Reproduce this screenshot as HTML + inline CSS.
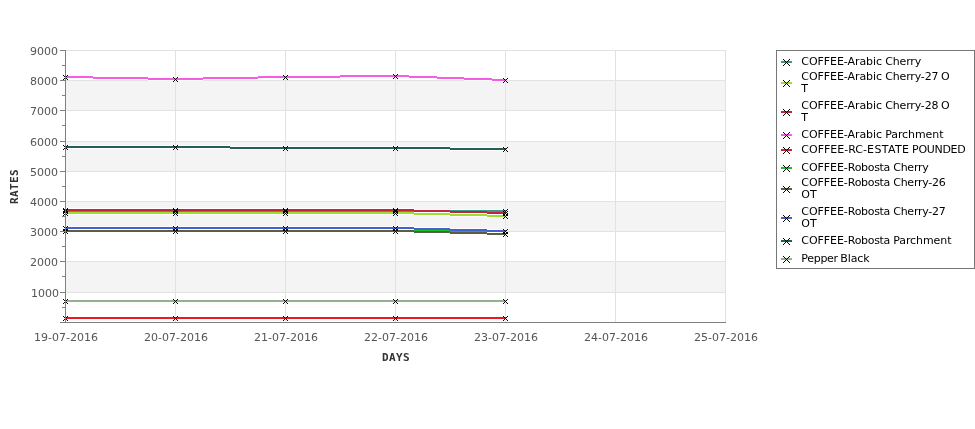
<!DOCTYPE html>
<html><head><meta charset="utf-8"><title>Rates</title>
<style>
html,body{margin:0;padding:0;background:#fff}
svg{display:block}
text{font-family:"DejaVu Sans","Liberation Sans",sans-serif;font-size:11px}
.tk{fill:#555}
.ax{font-family:"DejaVu Sans Mono","Liberation Mono",monospace;font-weight:bold;font-size:11px;fill:#333;letter-spacing:0.38px}
.lg{fill:#000}
</style></head><body>
<svg width="975" height="429" viewBox="0 0 975 429">
<rect width="975" height="429" fill="#fff"/>
<g shape-rendering="crispEdges">
<rect x="66" y="261" width="660" height="31" fill="#f4f4f4"/>
<rect x="66" y="201" width="660" height="30" fill="#f4f4f4"/>
<rect x="66" y="141" width="660" height="30" fill="#f4f4f4"/>
<rect x="66" y="80" width="660" height="30" fill="#f4f4f4"/>
<rect x="66" y="292" width="660" height="1" fill="#e2e2e2"/>
<rect x="66" y="261" width="660" height="1" fill="#e2e2e2"/>
<rect x="66" y="231" width="660" height="1" fill="#e2e2e2"/>
<rect x="66" y="201" width="660" height="1" fill="#e2e2e2"/>
<rect x="66" y="171" width="660" height="1" fill="#e2e2e2"/>
<rect x="66" y="141" width="660" height="1" fill="#e2e2e2"/>
<rect x="66" y="110" width="660" height="1" fill="#e2e2e2"/>
<rect x="66" y="80" width="660" height="1" fill="#e2e2e2"/>
<rect x="66" y="50" width="660" height="1" fill="#e2e2e2"/>
<rect x="175" y="50" width="1" height="272" fill="#e2e2e2"/>
<rect x="285" y="50" width="1" height="272" fill="#e2e2e2"/>
<rect x="395" y="50" width="1" height="272" fill="#e2e2e2"/>
<rect x="505" y="50" width="1" height="272" fill="#e2e2e2"/>
<rect x="615" y="50" width="1" height="272" fill="#e2e2e2"/>
<rect x="725" y="50" width="1" height="272" fill="#e2e2e2"/>
<rect x="66" y="209" width="109" height="4" fill="#fff"/>
<rect x="175" y="209" width="110" height="4" fill="#fff"/>
<rect x="285" y="209" width="110" height="4" fill="#fff"/>
<rect x="395" y="209" width="111" height="4" fill="#fff"/>
<rect x="66" y="211" width="109" height="4" fill="#fff"/>
<rect x="175" y="211" width="110" height="4" fill="#fff"/>
<rect x="285" y="211" width="110" height="4" fill="#fff"/>
<rect x="395" y="211" width="19" height="4" fill="#fff"/>
<rect x="414" y="212" width="36" height="4" fill="#fff"/>
<rect x="450" y="213" width="37" height="4" fill="#fff"/>
<rect x="487" y="214" width="19" height="4" fill="#fff"/>
<rect x="66" y="208" width="109" height="4" fill="#fff"/>
<rect x="175" y="208" width="110" height="4" fill="#fff"/>
<rect x="285" y="208" width="110" height="4" fill="#fff"/>
<rect x="395" y="208" width="19" height="4" fill="#fff"/>
<rect x="414" y="209" width="36" height="4" fill="#fff"/>
<rect x="450" y="210" width="37" height="4" fill="#fff"/>
<rect x="487" y="211" width="19" height="4" fill="#fff"/>
<rect x="66" y="75" width="27" height="4" fill="#fff"/>
<rect x="93" y="76" width="55" height="4" fill="#fff"/>
<rect x="148" y="77" width="27" height="4" fill="#fff"/>
<rect x="175" y="77" width="28" height="4" fill="#fff"/>
<rect x="203" y="76" width="55" height="4" fill="#fff"/>
<rect x="258" y="75" width="27" height="4" fill="#fff"/>
<rect x="285" y="75" width="55" height="4" fill="#fff"/>
<rect x="340" y="74" width="55" height="4" fill="#fff"/>
<rect x="395" y="74" width="14" height="4" fill="#fff"/>
<rect x="409" y="75" width="28" height="4" fill="#fff"/>
<rect x="437" y="76" width="27" height="4" fill="#fff"/>
<rect x="464" y="77" width="28" height="4" fill="#fff"/>
<rect x="492" y="78" width="14" height="4" fill="#fff"/>
<rect x="66" y="316" width="109" height="4" fill="#fff"/>
<rect x="175" y="316" width="110" height="4" fill="#fff"/>
<rect x="285" y="316" width="110" height="4" fill="#fff"/>
<rect x="395" y="316" width="111" height="4" fill="#fff"/>
<rect x="66" y="229" width="109" height="4" fill="#fff"/>
<rect x="175" y="229" width="110" height="4" fill="#fff"/>
<rect x="285" y="229" width="110" height="4" fill="#fff"/>
<rect x="395" y="229" width="111" height="4" fill="#fff"/>
<rect x="66" y="229" width="109" height="4" fill="#fff"/>
<rect x="175" y="229" width="110" height="4" fill="#fff"/>
<rect x="285" y="229" width="110" height="4" fill="#fff"/>
<rect x="395" y="229" width="19" height="4" fill="#fff"/>
<rect x="414" y="230" width="36" height="4" fill="#fff"/>
<rect x="450" y="231" width="37" height="4" fill="#fff"/>
<rect x="487" y="232" width="19" height="4" fill="#fff"/>
<rect x="66" y="226" width="109" height="4" fill="#fff"/>
<rect x="175" y="226" width="110" height="4" fill="#fff"/>
<rect x="285" y="226" width="110" height="4" fill="#fff"/>
<rect x="395" y="226" width="19" height="4" fill="#fff"/>
<rect x="414" y="227" width="36" height="4" fill="#fff"/>
<rect x="450" y="228" width="37" height="4" fill="#fff"/>
<rect x="487" y="229" width="19" height="4" fill="#fff"/>
<rect x="66" y="145" width="109" height="4" fill="#fff"/>
<rect x="175" y="145" width="55" height="4" fill="#fff"/>
<rect x="230" y="146" width="55" height="4" fill="#fff"/>
<rect x="285" y="146" width="110" height="4" fill="#fff"/>
<rect x="395" y="146" width="55" height="4" fill="#fff"/>
<rect x="450" y="147" width="56" height="4" fill="#fff"/>
<rect x="66" y="299" width="109" height="4" fill="#fff"/>
<rect x="175" y="299" width="110" height="4" fill="#fff"/>
<rect x="285" y="299" width="110" height="4" fill="#fff"/>
<rect x="395" y="299" width="111" height="4" fill="#fff"/>
<rect x="66" y="210" width="109" height="2" fill="#3a9889"/>
<rect x="175" y="210" width="110" height="2" fill="#3a9889"/>
<rect x="285" y="210" width="110" height="2" fill="#3a9889"/>
<rect x="395" y="210" width="111" height="2" fill="#3a9889"/>
<rect x="66" y="212" width="109" height="2" fill="#9be030"/>
<rect x="175" y="212" width="110" height="2" fill="#9be030"/>
<rect x="285" y="212" width="110" height="2" fill="#9be030"/>
<rect x="395" y="212" width="19" height="2" fill="#9be030"/>
<rect x="414" y="213" width="36" height="2" fill="#9be030"/>
<rect x="450" y="214" width="37" height="2" fill="#9be030"/>
<rect x="487" y="215" width="19" height="2" fill="#9be030"/>
<rect x="66" y="209" width="109" height="2" fill="#c3233e"/>
<rect x="175" y="209" width="110" height="2" fill="#c3233e"/>
<rect x="285" y="209" width="110" height="2" fill="#c3233e"/>
<rect x="395" y="209" width="19" height="2" fill="#c3233e"/>
<rect x="414" y="210" width="36" height="2" fill="#c3233e"/>
<rect x="450" y="211" width="37" height="2" fill="#c3233e"/>
<rect x="487" y="212" width="19" height="2" fill="#c3233e"/>
<rect x="66" y="76" width="27" height="2" fill="#f55ee4"/>
<rect x="93" y="77" width="55" height="2" fill="#f55ee4"/>
<rect x="148" y="78" width="27" height="2" fill="#f55ee4"/>
<rect x="175" y="78" width="28" height="2" fill="#f55ee4"/>
<rect x="203" y="77" width="55" height="2" fill="#f55ee4"/>
<rect x="258" y="76" width="27" height="2" fill="#f55ee4"/>
<rect x="285" y="76" width="55" height="2" fill="#f55ee4"/>
<rect x="340" y="75" width="55" height="2" fill="#f55ee4"/>
<rect x="395" y="75" width="14" height="2" fill="#f55ee4"/>
<rect x="409" y="76" width="28" height="2" fill="#f55ee4"/>
<rect x="437" y="77" width="27" height="2" fill="#f55ee4"/>
<rect x="464" y="78" width="28" height="2" fill="#f55ee4"/>
<rect x="492" y="79" width="14" height="2" fill="#f55ee4"/>
<rect x="66" y="317" width="109" height="2" fill="#ee1825"/>
<rect x="175" y="317" width="110" height="2" fill="#ee1825"/>
<rect x="285" y="317" width="110" height="2" fill="#ee1825"/>
<rect x="395" y="317" width="111" height="2" fill="#ee1825"/>
<rect x="66" y="230" width="109" height="2" fill="#0ec420"/>
<rect x="175" y="230" width="110" height="2" fill="#0ec420"/>
<rect x="285" y="230" width="110" height="2" fill="#0ec420"/>
<rect x="395" y="230" width="111" height="2" fill="#0ec420"/>
<rect x="66" y="230" width="109" height="2" fill="#585d43"/>
<rect x="175" y="230" width="110" height="2" fill="#585d43"/>
<rect x="285" y="230" width="110" height="2" fill="#585d43"/>
<rect x="395" y="230" width="19" height="2" fill="#585d43"/>
<rect x="414" y="231" width="36" height="2" fill="#585d43"/>
<rect x="450" y="232" width="37" height="2" fill="#585d43"/>
<rect x="487" y="233" width="19" height="2" fill="#585d43"/>
<rect x="66" y="227" width="109" height="2" fill="#4662ca"/>
<rect x="175" y="227" width="110" height="2" fill="#4662ca"/>
<rect x="285" y="227" width="110" height="2" fill="#4662ca"/>
<rect x="395" y="227" width="19" height="2" fill="#4662ca"/>
<rect x="414" y="228" width="36" height="2" fill="#4662ca"/>
<rect x="450" y="229" width="37" height="2" fill="#4662ca"/>
<rect x="487" y="230" width="19" height="2" fill="#4662ca"/>
<rect x="66" y="146" width="109" height="2" fill="#255e56"/>
<rect x="175" y="146" width="55" height="2" fill="#255e56"/>
<rect x="230" y="147" width="55" height="2" fill="#255e56"/>
<rect x="285" y="147" width="110" height="2" fill="#255e56"/>
<rect x="395" y="147" width="55" height="2" fill="#255e56"/>
<rect x="450" y="148" width="56" height="2" fill="#255e56"/>
<rect x="66" y="300" width="109" height="2" fill="#94b290"/>
<rect x="175" y="300" width="110" height="2" fill="#94b290"/>
<rect x="285" y="300" width="110" height="2" fill="#94b290"/>
<rect x="395" y="300" width="111" height="2" fill="#94b290"/>
</g>
<path d="M63 209h1v1h-1zM63 213h1v1h-1zM64 210h1v1h-1zM64 212h1v1h-1zM65 211h1v1h-1zM66 210h1v1h-1zM66 212h1v1h-1zM67 209h1v1h-1zM67 213h1v1h-1z" fill="#000" shape-rendering="crispEdges"/>
<path d="M173 209h1v1h-1zM173 213h1v1h-1zM174 210h1v1h-1zM174 212h1v1h-1zM175 211h1v1h-1zM176 210h1v1h-1zM176 212h1v1h-1zM177 209h1v1h-1zM177 213h1v1h-1z" fill="#000" shape-rendering="crispEdges"/>
<path d="M283 209h1v1h-1zM283 213h1v1h-1zM284 210h1v1h-1zM284 212h1v1h-1zM285 211h1v1h-1zM286 210h1v1h-1zM286 212h1v1h-1zM287 209h1v1h-1zM287 213h1v1h-1z" fill="#000" shape-rendering="crispEdges"/>
<path d="M393 209h1v1h-1zM393 213h1v1h-1zM394 210h1v1h-1zM394 212h1v1h-1zM395 211h1v1h-1zM396 210h1v1h-1zM396 212h1v1h-1zM397 209h1v1h-1zM397 213h1v1h-1z" fill="#000" shape-rendering="crispEdges"/>
<path d="M503 209h1v1h-1zM503 213h1v1h-1zM504 210h1v1h-1zM504 212h1v1h-1zM505 211h1v1h-1zM506 210h1v1h-1zM506 212h1v1h-1zM507 209h1v1h-1zM507 213h1v1h-1z" fill="#000" shape-rendering="crispEdges"/>
<path d="M63 211h1v1h-1zM63 215h1v1h-1zM64 212h1v1h-1zM64 214h1v1h-1zM65 213h1v1h-1zM66 212h1v1h-1zM66 214h1v1h-1zM67 211h1v1h-1zM67 215h1v1h-1z" fill="#000" shape-rendering="crispEdges"/>
<path d="M173 211h1v1h-1zM173 215h1v1h-1zM174 212h1v1h-1zM174 214h1v1h-1zM175 213h1v1h-1zM176 212h1v1h-1zM176 214h1v1h-1zM177 211h1v1h-1zM177 215h1v1h-1z" fill="#000" shape-rendering="crispEdges"/>
<path d="M283 211h1v1h-1zM283 215h1v1h-1zM284 212h1v1h-1zM284 214h1v1h-1zM285 213h1v1h-1zM286 212h1v1h-1zM286 214h1v1h-1zM287 211h1v1h-1zM287 215h1v1h-1z" fill="#000" shape-rendering="crispEdges"/>
<path d="M393 211h1v1h-1zM393 215h1v1h-1zM394 212h1v1h-1zM394 214h1v1h-1zM395 213h1v1h-1zM396 212h1v1h-1zM396 214h1v1h-1zM397 211h1v1h-1zM397 215h1v1h-1z" fill="#000" shape-rendering="crispEdges"/>
<path d="M503 214h1v1h-1zM503 218h1v1h-1zM504 215h1v1h-1zM504 217h1v1h-1zM505 216h1v1h-1zM506 215h1v1h-1zM506 217h1v1h-1zM507 214h1v1h-1zM507 218h1v1h-1z" fill="#000" shape-rendering="crispEdges"/>
<path d="M63 208h1v1h-1zM63 212h1v1h-1zM64 209h1v1h-1zM64 211h1v1h-1zM65 210h1v1h-1zM66 209h1v1h-1zM66 211h1v1h-1zM67 208h1v1h-1zM67 212h1v1h-1z" fill="#000" shape-rendering="crispEdges"/>
<path d="M173 208h1v1h-1zM173 212h1v1h-1zM174 209h1v1h-1zM174 211h1v1h-1zM175 210h1v1h-1zM176 209h1v1h-1zM176 211h1v1h-1zM177 208h1v1h-1zM177 212h1v1h-1z" fill="#000" shape-rendering="crispEdges"/>
<path d="M283 208h1v1h-1zM283 212h1v1h-1zM284 209h1v1h-1zM284 211h1v1h-1zM285 210h1v1h-1zM286 209h1v1h-1zM286 211h1v1h-1zM287 208h1v1h-1zM287 212h1v1h-1z" fill="#000" shape-rendering="crispEdges"/>
<path d="M393 208h1v1h-1zM393 212h1v1h-1zM394 209h1v1h-1zM394 211h1v1h-1zM395 210h1v1h-1zM396 209h1v1h-1zM396 211h1v1h-1zM397 208h1v1h-1zM397 212h1v1h-1z" fill="#000" shape-rendering="crispEdges"/>
<path d="M503 211h1v1h-1zM503 215h1v1h-1zM504 212h1v1h-1zM504 214h1v1h-1zM505 213h1v1h-1zM506 212h1v1h-1zM506 214h1v1h-1zM507 211h1v1h-1zM507 215h1v1h-1z" fill="#000" shape-rendering="crispEdges"/>
<path d="M63 75h1v1h-1zM63 79h1v1h-1zM64 76h1v1h-1zM64 78h1v1h-1zM65 77h1v1h-1zM66 76h1v1h-1zM66 78h1v1h-1zM67 75h1v1h-1zM67 79h1v1h-1z" fill="#000" shape-rendering="crispEdges"/>
<path d="M173 77h1v1h-1zM173 81h1v1h-1zM174 78h1v1h-1zM174 80h1v1h-1zM175 79h1v1h-1zM176 78h1v1h-1zM176 80h1v1h-1zM177 77h1v1h-1zM177 81h1v1h-1z" fill="#000" shape-rendering="crispEdges"/>
<path d="M283 75h1v1h-1zM283 79h1v1h-1zM284 76h1v1h-1zM284 78h1v1h-1zM285 77h1v1h-1zM286 76h1v1h-1zM286 78h1v1h-1zM287 75h1v1h-1zM287 79h1v1h-1z" fill="#000" shape-rendering="crispEdges"/>
<path d="M393 74h1v1h-1zM393 78h1v1h-1zM394 75h1v1h-1zM394 77h1v1h-1zM395 76h1v1h-1zM396 75h1v1h-1zM396 77h1v1h-1zM397 74h1v1h-1zM397 78h1v1h-1z" fill="#000" shape-rendering="crispEdges"/>
<path d="M503 78h1v1h-1zM503 82h1v1h-1zM504 79h1v1h-1zM504 81h1v1h-1zM505 80h1v1h-1zM506 79h1v1h-1zM506 81h1v1h-1zM507 78h1v1h-1zM507 82h1v1h-1z" fill="#000" shape-rendering="crispEdges"/>
<path d="M63 316h1v1h-1zM63 320h1v1h-1zM64 317h1v1h-1zM64 319h1v1h-1zM65 318h1v1h-1zM66 317h1v1h-1zM66 319h1v1h-1zM67 316h1v1h-1zM67 320h1v1h-1z" fill="#000" shape-rendering="crispEdges"/>
<path d="M173 316h1v1h-1zM173 320h1v1h-1zM174 317h1v1h-1zM174 319h1v1h-1zM175 318h1v1h-1zM176 317h1v1h-1zM176 319h1v1h-1zM177 316h1v1h-1zM177 320h1v1h-1z" fill="#000" shape-rendering="crispEdges"/>
<path d="M283 316h1v1h-1zM283 320h1v1h-1zM284 317h1v1h-1zM284 319h1v1h-1zM285 318h1v1h-1zM286 317h1v1h-1zM286 319h1v1h-1zM287 316h1v1h-1zM287 320h1v1h-1z" fill="#000" shape-rendering="crispEdges"/>
<path d="M393 316h1v1h-1zM393 320h1v1h-1zM394 317h1v1h-1zM394 319h1v1h-1zM395 318h1v1h-1zM396 317h1v1h-1zM396 319h1v1h-1zM397 316h1v1h-1zM397 320h1v1h-1z" fill="#000" shape-rendering="crispEdges"/>
<path d="M503 316h1v1h-1zM503 320h1v1h-1zM504 317h1v1h-1zM504 319h1v1h-1zM505 318h1v1h-1zM506 317h1v1h-1zM506 319h1v1h-1zM507 316h1v1h-1zM507 320h1v1h-1z" fill="#000" shape-rendering="crispEdges"/>
<path d="M63 229h1v1h-1zM63 233h1v1h-1zM64 230h1v1h-1zM64 232h1v1h-1zM65 231h1v1h-1zM66 230h1v1h-1zM66 232h1v1h-1zM67 229h1v1h-1zM67 233h1v1h-1z" fill="#000" shape-rendering="crispEdges"/>
<path d="M173 229h1v1h-1zM173 233h1v1h-1zM174 230h1v1h-1zM174 232h1v1h-1zM175 231h1v1h-1zM176 230h1v1h-1zM176 232h1v1h-1zM177 229h1v1h-1zM177 233h1v1h-1z" fill="#000" shape-rendering="crispEdges"/>
<path d="M283 229h1v1h-1zM283 233h1v1h-1zM284 230h1v1h-1zM284 232h1v1h-1zM285 231h1v1h-1zM286 230h1v1h-1zM286 232h1v1h-1zM287 229h1v1h-1zM287 233h1v1h-1z" fill="#000" shape-rendering="crispEdges"/>
<path d="M393 229h1v1h-1zM393 233h1v1h-1zM394 230h1v1h-1zM394 232h1v1h-1zM395 231h1v1h-1zM396 230h1v1h-1zM396 232h1v1h-1zM397 229h1v1h-1zM397 233h1v1h-1z" fill="#000" shape-rendering="crispEdges"/>
<path d="M503 229h1v1h-1zM503 233h1v1h-1zM504 230h1v1h-1zM504 232h1v1h-1zM505 231h1v1h-1zM506 230h1v1h-1zM506 232h1v1h-1zM507 229h1v1h-1zM507 233h1v1h-1z" fill="#000" shape-rendering="crispEdges"/>
<path d="M63 229h1v1h-1zM63 233h1v1h-1zM64 230h1v1h-1zM64 232h1v1h-1zM65 231h1v1h-1zM66 230h1v1h-1zM66 232h1v1h-1zM67 229h1v1h-1zM67 233h1v1h-1z" fill="#000" shape-rendering="crispEdges"/>
<path d="M173 229h1v1h-1zM173 233h1v1h-1zM174 230h1v1h-1zM174 232h1v1h-1zM175 231h1v1h-1zM176 230h1v1h-1zM176 232h1v1h-1zM177 229h1v1h-1zM177 233h1v1h-1z" fill="#000" shape-rendering="crispEdges"/>
<path d="M283 229h1v1h-1zM283 233h1v1h-1zM284 230h1v1h-1zM284 232h1v1h-1zM285 231h1v1h-1zM286 230h1v1h-1zM286 232h1v1h-1zM287 229h1v1h-1zM287 233h1v1h-1z" fill="#000" shape-rendering="crispEdges"/>
<path d="M393 229h1v1h-1zM393 233h1v1h-1zM394 230h1v1h-1zM394 232h1v1h-1zM395 231h1v1h-1zM396 230h1v1h-1zM396 232h1v1h-1zM397 229h1v1h-1zM397 233h1v1h-1z" fill="#000" shape-rendering="crispEdges"/>
<path d="M503 232h1v1h-1zM503 236h1v1h-1zM504 233h1v1h-1zM504 235h1v1h-1zM505 234h1v1h-1zM506 233h1v1h-1zM506 235h1v1h-1zM507 232h1v1h-1zM507 236h1v1h-1z" fill="#000" shape-rendering="crispEdges"/>
<path d="M63 226h1v1h-1zM63 230h1v1h-1zM64 227h1v1h-1zM64 229h1v1h-1zM65 228h1v1h-1zM66 227h1v1h-1zM66 229h1v1h-1zM67 226h1v1h-1zM67 230h1v1h-1z" fill="#000" shape-rendering="crispEdges"/>
<path d="M173 226h1v1h-1zM173 230h1v1h-1zM174 227h1v1h-1zM174 229h1v1h-1zM175 228h1v1h-1zM176 227h1v1h-1zM176 229h1v1h-1zM177 226h1v1h-1zM177 230h1v1h-1z" fill="#000" shape-rendering="crispEdges"/>
<path d="M283 226h1v1h-1zM283 230h1v1h-1zM284 227h1v1h-1zM284 229h1v1h-1zM285 228h1v1h-1zM286 227h1v1h-1zM286 229h1v1h-1zM287 226h1v1h-1zM287 230h1v1h-1z" fill="#000" shape-rendering="crispEdges"/>
<path d="M393 226h1v1h-1zM393 230h1v1h-1zM394 227h1v1h-1zM394 229h1v1h-1zM395 228h1v1h-1zM396 227h1v1h-1zM396 229h1v1h-1zM397 226h1v1h-1zM397 230h1v1h-1z" fill="#000" shape-rendering="crispEdges"/>
<path d="M503 229h1v1h-1zM503 233h1v1h-1zM504 230h1v1h-1zM504 232h1v1h-1zM505 231h1v1h-1zM506 230h1v1h-1zM506 232h1v1h-1zM507 229h1v1h-1zM507 233h1v1h-1z" fill="#000" shape-rendering="crispEdges"/>
<path d="M63 145h1v1h-1zM63 149h1v1h-1zM64 146h1v1h-1zM64 148h1v1h-1zM65 147h1v1h-1zM66 146h1v1h-1zM66 148h1v1h-1zM67 145h1v1h-1zM67 149h1v1h-1z" fill="#000" shape-rendering="crispEdges"/>
<path d="M173 145h1v1h-1zM173 149h1v1h-1zM174 146h1v1h-1zM174 148h1v1h-1zM175 147h1v1h-1zM176 146h1v1h-1zM176 148h1v1h-1zM177 145h1v1h-1zM177 149h1v1h-1z" fill="#000" shape-rendering="crispEdges"/>
<path d="M283 146h1v1h-1zM283 150h1v1h-1zM284 147h1v1h-1zM284 149h1v1h-1zM285 148h1v1h-1zM286 147h1v1h-1zM286 149h1v1h-1zM287 146h1v1h-1zM287 150h1v1h-1z" fill="#000" shape-rendering="crispEdges"/>
<path d="M393 146h1v1h-1zM393 150h1v1h-1zM394 147h1v1h-1zM394 149h1v1h-1zM395 148h1v1h-1zM396 147h1v1h-1zM396 149h1v1h-1zM397 146h1v1h-1zM397 150h1v1h-1z" fill="#000" shape-rendering="crispEdges"/>
<path d="M503 147h1v1h-1zM503 151h1v1h-1zM504 148h1v1h-1zM504 150h1v1h-1zM505 149h1v1h-1zM506 148h1v1h-1zM506 150h1v1h-1zM507 147h1v1h-1zM507 151h1v1h-1z" fill="#000" shape-rendering="crispEdges"/>
<path d="M63 299h1v1h-1zM63 303h1v1h-1zM64 300h1v1h-1zM64 302h1v1h-1zM65 301h1v1h-1zM66 300h1v1h-1zM66 302h1v1h-1zM67 299h1v1h-1zM67 303h1v1h-1z" fill="#000" shape-rendering="crispEdges"/>
<path d="M173 299h1v1h-1zM173 303h1v1h-1zM174 300h1v1h-1zM174 302h1v1h-1zM175 301h1v1h-1zM176 300h1v1h-1zM176 302h1v1h-1zM177 299h1v1h-1zM177 303h1v1h-1z" fill="#000" shape-rendering="crispEdges"/>
<path d="M283 299h1v1h-1zM283 303h1v1h-1zM284 300h1v1h-1zM284 302h1v1h-1zM285 301h1v1h-1zM286 300h1v1h-1zM286 302h1v1h-1zM287 299h1v1h-1zM287 303h1v1h-1z" fill="#000" shape-rendering="crispEdges"/>
<path d="M393 299h1v1h-1zM393 303h1v1h-1zM394 300h1v1h-1zM394 302h1v1h-1zM395 301h1v1h-1zM396 300h1v1h-1zM396 302h1v1h-1zM397 299h1v1h-1zM397 303h1v1h-1z" fill="#000" shape-rendering="crispEdges"/>
<path d="M503 299h1v1h-1zM503 303h1v1h-1zM504 300h1v1h-1zM504 302h1v1h-1zM505 301h1v1h-1zM506 300h1v1h-1zM506 302h1v1h-1zM507 299h1v1h-1zM507 303h1v1h-1z" fill="#000" shape-rendering="crispEdges"/>
<g shape-rendering="crispEdges">
<rect x="65" y="50" width="1" height="273" fill="#808080"/>
<rect x="60" y="322" width="666" height="1" fill="#808080"/>
<rect x="60" y="292" width="5" height="1" fill="#808080"/>
<rect x="60" y="261" width="5" height="1" fill="#808080"/>
<rect x="60" y="231" width="5" height="1" fill="#808080"/>
<rect x="60" y="201" width="5" height="1" fill="#808080"/>
<rect x="60" y="171" width="5" height="1" fill="#808080"/>
<rect x="60" y="141" width="5" height="1" fill="#808080"/>
<rect x="60" y="110" width="5" height="1" fill="#808080"/>
<rect x="60" y="80" width="5" height="1" fill="#808080"/>
<rect x="60" y="50" width="5" height="1" fill="#808080"/>
<rect x="62" y="307" width="3" height="1" fill="#808080"/>
<rect x="62" y="276" width="3" height="1" fill="#808080"/>
<rect x="62" y="246" width="3" height="1" fill="#808080"/>
<rect x="62" y="216" width="3" height="1" fill="#808080"/>
<rect x="62" y="186" width="3" height="1" fill="#808080"/>
<rect x="62" y="156" width="3" height="1" fill="#808080"/>
<rect x="62" y="125" width="3" height="1" fill="#808080"/>
<rect x="62" y="95" width="3" height="1" fill="#808080"/>
<rect x="62" y="65" width="3" height="1" fill="#808080"/>
</g>
<text class="tk" x="59" y="297" text-anchor="end">1000</text>
<text class="tk" x="58" y="266" text-anchor="end">2000</text>
<text class="tk" x="58" y="236" text-anchor="end">3000</text>
<text class="tk" x="58" y="206" text-anchor="end">4000</text>
<text class="tk" x="58" y="176" text-anchor="end">5000</text>
<text class="tk" x="58" y="146" text-anchor="end">6000</text>
<text class="tk" x="58" y="115" text-anchor="end">7000</text>
<text class="tk" x="58" y="85" text-anchor="end">8000</text>
<text class="tk" x="58" y="55" text-anchor="end">9000</text>
<text class="tk" x="66" y="341" text-anchor="middle">19-07-2016</text>
<text class="tk" x="176" y="341" text-anchor="middle">20-07-2016</text>
<text class="tk" x="286" y="341" text-anchor="middle">21-07-2016</text>
<text class="tk" x="396" y="341" text-anchor="middle">22-07-2016</text>
<text class="tk" x="506" y="341" text-anchor="middle">23-07-2016</text>
<text class="tk" x="616" y="341" text-anchor="middle">24-07-2016</text>
<text class="tk" x="726" y="341" text-anchor="middle">25-07-2016</text>
<text class="ax" x="396" y="361" text-anchor="middle">DAYS</text>
<text class="ax" x="18" y="186.6" text-anchor="middle" transform="rotate(-90 18 186.6)">RATES</text>
<rect x="776.5" y="50.5" width="198" height="218" fill="#fff" stroke="#777" stroke-width="1"/>
<rect x="781" y="61" width="11" height="2" fill="#3a9889" shape-rendering="crispEdges"/>
<path d="M783 59h1v1h-1zM783 65h1v1h-1zM784 60h1v1h-1zM784 64h1v1h-1zM785 61h1v1h-1zM785 63h1v1h-1zM786 62h1v1h-1zM787 61h1v1h-1zM787 63h1v1h-1zM788 60h1v1h-1zM788 64h1v1h-1zM789 59h1v1h-1zM789 65h1v1h-1z" fill="#000" shape-rendering="crispEdges"/>
<text class="lg" y="65"><tspan x="801.3" letter-spacing="-0.065">COFFEE-Arabic </tspan><tspan x="885.3" letter-spacing="-0.17">Cherry</tspan></text>
<rect x="781" y="82" width="11" height="2" fill="#9be030" shape-rendering="crispEdges"/>
<path d="M783 80h1v1h-1zM783 86h1v1h-1zM784 81h1v1h-1zM784 85h1v1h-1zM785 82h1v1h-1zM785 84h1v1h-1zM786 83h1v1h-1zM787 82h1v1h-1zM787 84h1v1h-1zM788 81h1v1h-1zM788 85h1v1h-1zM789 80h1v1h-1zM789 86h1v1h-1z" fill="#000" shape-rendering="crispEdges"/>
<text class="lg" y="80"><tspan x="801.3" letter-spacing="-0.065">COFFEE-Arabic </tspan><tspan x="885.3" letter-spacing="-0.17">Cherry-27 </tspan><tspan x="940.9">O</tspan></text>
<text class="lg" y="92"><tspan x="801.3">T</tspan></text>
<rect x="781" y="111" width="11" height="2" fill="#c3233e" shape-rendering="crispEdges"/>
<path d="M783 109h1v1h-1zM783 115h1v1h-1zM784 110h1v1h-1zM784 114h1v1h-1zM785 111h1v1h-1zM785 113h1v1h-1zM786 112h1v1h-1zM787 111h1v1h-1zM787 113h1v1h-1zM788 110h1v1h-1zM788 114h1v1h-1zM789 109h1v1h-1zM789 115h1v1h-1z" fill="#000" shape-rendering="crispEdges"/>
<text class="lg" y="109"><tspan x="801.3" letter-spacing="-0.065">COFFEE-Arabic </tspan><tspan x="885.3" letter-spacing="-0.17">Cherry-28 </tspan><tspan x="940.9">O</tspan></text>
<text class="lg" y="121"><tspan x="801.3">T</tspan></text>
<rect x="781" y="134" width="11" height="2" fill="#f55ee4" shape-rendering="crispEdges"/>
<path d="M783 132h1v1h-1zM783 138h1v1h-1zM784 133h1v1h-1zM784 137h1v1h-1zM785 134h1v1h-1zM785 136h1v1h-1zM786 135h1v1h-1zM787 134h1v1h-1zM787 136h1v1h-1zM788 133h1v1h-1zM788 137h1v1h-1zM789 132h1v1h-1zM789 138h1v1h-1z" fill="#000" shape-rendering="crispEdges"/>
<text class="lg" y="138"><tspan x="801.3" letter-spacing="-0.065">COFFEE-Arabic </tspan><tspan x="885.2" letter-spacing="-0.08">Parchment</tspan></text>
<rect x="781" y="149" width="11" height="2" fill="#ee1825" shape-rendering="crispEdges"/>
<path d="M783 147h1v1h-1zM783 153h1v1h-1zM784 148h1v1h-1zM784 152h1v1h-1zM785 149h1v1h-1zM785 151h1v1h-1zM786 150h1v1h-1zM787 149h1v1h-1zM787 151h1v1h-1zM788 148h1v1h-1zM788 152h1v1h-1zM789 147h1v1h-1zM789 153h1v1h-1z" fill="#000" shape-rendering="crispEdges"/>
<text class="lg" y="153"><tspan x="801.3">COFFEE-RC-</tspan><tspan x="867.1" letter-spacing="0.35">ESTATE </tspan><tspan x="912.1" letter-spacing="-0.31">POUNDED</tspan></text>
<rect x="781" y="167" width="11" height="2" fill="#0ec420" shape-rendering="crispEdges"/>
<path d="M783 165h1v1h-1zM783 171h1v1h-1zM784 166h1v1h-1zM784 170h1v1h-1zM785 167h1v1h-1zM785 169h1v1h-1zM786 168h1v1h-1zM787 167h1v1h-1zM787 169h1v1h-1zM788 166h1v1h-1zM788 170h1v1h-1zM789 165h1v1h-1zM789 171h1v1h-1z" fill="#000" shape-rendering="crispEdges"/>
<text class="lg" y="171"><tspan x="801.3" letter-spacing="-0.06">COFFEE-</tspan><tspan x="847.8" letter-spacing="-0.31">Robosta </tspan><tspan x="893.2" letter-spacing="-0.24">Cherry</tspan></text>
<rect x="781" y="188" width="11" height="2" fill="#585d43" shape-rendering="crispEdges"/>
<path d="M783 186h1v1h-1zM783 192h1v1h-1zM784 187h1v1h-1zM784 191h1v1h-1zM785 188h1v1h-1zM785 190h1v1h-1zM786 189h1v1h-1zM787 188h1v1h-1zM787 190h1v1h-1zM788 187h1v1h-1zM788 191h1v1h-1zM789 186h1v1h-1zM789 192h1v1h-1z" fill="#000" shape-rendering="crispEdges"/>
<text class="lg" y="186"><tspan x="801.3" letter-spacing="-0.06">COFFEE-</tspan><tspan x="847.8" letter-spacing="-0.31">Robosta </tspan><tspan x="893.2" letter-spacing="-0.24">Cherry-26</tspan></text>
<text class="lg" y="198"><tspan x="801.3">OT</tspan></text>
<rect x="781" y="217" width="11" height="2" fill="#4662ca" shape-rendering="crispEdges"/>
<path d="M783 215h1v1h-1zM783 221h1v1h-1zM784 216h1v1h-1zM784 220h1v1h-1zM785 217h1v1h-1zM785 219h1v1h-1zM786 218h1v1h-1zM787 217h1v1h-1zM787 219h1v1h-1zM788 216h1v1h-1zM788 220h1v1h-1zM789 215h1v1h-1zM789 221h1v1h-1z" fill="#000" shape-rendering="crispEdges"/>
<text class="lg" y="215"><tspan x="801.3" letter-spacing="-0.06">COFFEE-</tspan><tspan x="847.8" letter-spacing="-0.31">Robosta </tspan><tspan x="893.2" letter-spacing="-0.24">Cherry-27</tspan></text>
<text class="lg" y="227"><tspan x="801.3">OT</tspan></text>
<rect x="781" y="240" width="11" height="2" fill="#255e56" shape-rendering="crispEdges"/>
<path d="M783 238h1v1h-1zM783 244h1v1h-1zM784 239h1v1h-1zM784 243h1v1h-1zM785 240h1v1h-1zM785 242h1v1h-1zM786 241h1v1h-1zM787 240h1v1h-1zM787 242h1v1h-1zM788 239h1v1h-1zM788 243h1v1h-1zM789 238h1v1h-1zM789 244h1v1h-1z" fill="#000" shape-rendering="crispEdges"/>
<text class="lg" y="244"><tspan x="801.3" letter-spacing="-0.06">COFFEE-</tspan><tspan x="847.8" letter-spacing="-0.31">Robosta </tspan><tspan x="893.2" letter-spacing="-0.08">Parchment</tspan></text>
<rect x="781" y="258" width="11" height="2" fill="#94b290" shape-rendering="crispEdges"/>
<path d="M783 256h1v1h-1zM783 262h1v1h-1zM784 257h1v1h-1zM784 261h1v1h-1zM785 258h1v1h-1zM785 260h1v1h-1zM786 259h1v1h-1zM787 258h1v1h-1zM787 260h1v1h-1zM788 257h1v1h-1zM788 261h1v1h-1zM789 256h1v1h-1zM789 262h1v1h-1z" fill="#000" shape-rendering="crispEdges"/>
<text class="lg" y="262"><tspan x="801.3" letter-spacing="-0.3">Pepper </tspan><tspan x="840.3" letter-spacing="-0.1">Black</tspan></text>
</svg>
</body></html>
